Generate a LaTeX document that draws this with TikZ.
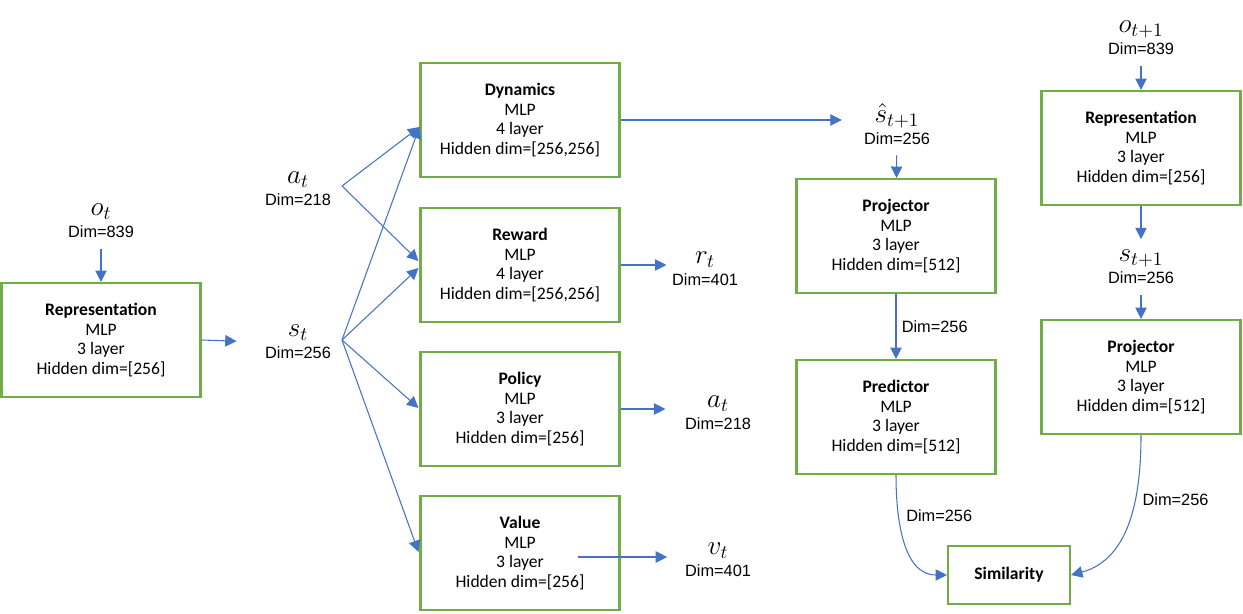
\RequirePackage{fix-cm}
\documentclass[tikz,border=0pt]{standalone}
\usepackage{fontspec}
\setmainfont{Carlito}
\newfontfamily\arialfont{Liberation Sans}
\usetikzlibrary{arrows.meta, calc}
\definecolor{boxgreen}{RGB}{112,173,71}
\definecolor{arrblue}{RGB}{68,114,196}
\newcommand{\mvar}[1]{{\fontsize{15.5}{15.5}\selectfont$#1$}}
\tikzset{>={Triangle[length=6.5pt, width=6.5pt]}}
\tikzset{mlpbox/.style={draw=boxgreen, line width=1.2pt, align=center,
  minimum width=3.98cm, minimum height=2.28cm, inner sep=2pt,
  font=\fontsize{10}{11.2}\selectfont}}
\tikzset{dimlab/.style={align=center, inner xsep=3pt, inner ysep=6pt,
  font=\arialfont\fontsize{9.3}{12.5}\selectfont}}
\tikzset{arr/.style={->, draw=arrblue, line width=.6pt}}

\begin{document}
\begin{tikzpicture}[x=0.02cm, y=-0.02cm]
    \useasboundingbox (0, 0) rectangle (1243, 614);
    % left column
    \node[dimlab](ot) at (101, 221){\mvar{o_t}\\Dim=839};
    \node[mlpbox](rep1) at (101, 340){\textbf{Representation}\\MLP\\3 layer\\Hidden dim=[256]};
    \node[dimlab](st) at (298, 342){\mvar{s_t}\\Dim=256};
    \node[dimlab](at1) at (298, 189){\mvar{a_t}\\Dim=218};
    \coordinate (stR) at (342, 340);
    \coordinate (atR) at (342, 186);
    % middle column
    \node[mlpbox](dyn) at (520, 120){\textbf{Dynamics}\\MLP\\4 layer\\Hidden dim=[256,256]};
    \node[mlpbox](rew) at (520, 265){\textbf{Reward}\\MLP\\4 layer\\Hidden dim=[256,256]};
    \node[mlpbox](pol) at (520, 409){\textbf{Policy}\\MLP\\3 layer\\Hidden dim=[256]};
    \node[mlpbox](val) at (520, 553){\textbf{Value}\\MLP\\3 layer\\Hidden dim=[256]};
    \node[dimlab](rt) at (705, 269){\mvar{r_t}\\Dim=401};
    \node[dimlab](at2) at (718, 413){\mvar{a_t}\\Dim=218};
    \node[dimlab](vt) at (718, 560){\mvar{v_t}\\Dim=401};
    % right part
    \node[dimlab](shat) at (897, 124){\mvar{\hat{s}_{t+1}}\\Dim=256};
    \node[mlpbox](proj1) at (896, 236){\textbf{Projector}\\MLP\\3 layer\\Hidden dim=[512]};
    \node[mlpbox](pred) at (896, 417){\textbf{Predictor}\\MLP\\3 layer\\Hidden dim=[512]};
    \node[dimlab](ot1) at (1141, 38){\mvar{o_{t+1}}\\Dim=839};
    \node[mlpbox](rep2) at (1141, 148){\textbf{Representation}\\MLP\\3 layer\\Hidden dim=[256]};
    \node[dimlab](st1) at (1141, 267){\mvar{s_{t+1}}\\Dim=256};
    \node[mlpbox](proj2) at (1141, 377){\textbf{Projector}\\MLP\\3 layer\\Hidden dim=[512]};
    \node[mlpbox, minimum width=2.44cm, minimum height=1.16cm](sim) at (1009, 575){\textbf{Similarity}};
    % connectors
    \draw[arr](ot)--(rep1);
    \draw[arr, shorten >=13pt](rep1.east)--(st.west);
    \draw[arr](atR)--($(dyn.west)+(0, 7)$);
    \draw[arr](stR)--($(dyn.west)+(0, 7)$);
    \draw[arr](atR)--($(rew.west)+(-1, -4)$);
    \draw[arr](stR)--($(rew.west)+(-1, 3)$);
    \draw[arr](stR)--($(pol.west)+(-1, -1)$);
    \draw[arr](stR)--($(val.west)+(-1, -1)$);
    \draw[arr, shorten >=9.5pt](dyn.east)--(dyn.east -| shat.west);
    \draw[arr](rew.east)--(rew.east -| rt.west);
    \draw[arr, shorten >=8pt](pol.east)--(pol.east -| at2.west);
    \draw[arr, shorten >=7pt]($(val.east)+(-43, 4)$)--($(val.east -| vt.west)+(0, 4)$);
    \draw[arr](shat)--(proj1);
    \draw[arr](proj1)--(pred)node[midway, right, dimlab, inner ysep=2pt]{Dim=256};
    \draw[arr](pred.south)to[out=-90, in=180]node[pos=.3, right, dimlab, inner ysep=2pt, xshift=1pt]{Dim=256}(sim.west);
    \draw[arr](ot1)--(rep2);
    \draw[arr](rep2)--(st1);
    \draw[arr](st1)--(proj2);
    \draw[arr](proj2.south)to[out=-90, in=15]node[pos=.36, right, dimlab, inner ysep=2pt, xshift=1pt]{Dim=256}(sim.east);
\end{tikzpicture}
\end{document}
